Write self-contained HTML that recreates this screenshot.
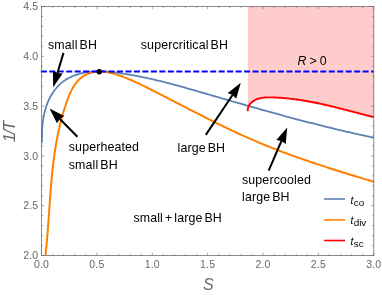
<!DOCTYPE html>
<html><head><meta charset="utf-8"><title>plot</title>
<style>
html,body{margin:0;padding:0;background:#fff;}
svg{display:block;will-change:transform;font-family:"Liberation Sans",sans-serif;}
</style></head>
<body>
<svg width="382" height="295" viewBox="0 0 382 295">
<rect x="0" y="0" width="382" height="295" fill="#fff"/>
<path d="M247.85,6.5 L247.85,111.1 L247.85,111.10 L247.71,109.64 L247.97,108.19 L248.40,106.85 L248.99,105.61 L249.72,104.47 L250.56,103.43 L251.50,102.49 L252.52,101.64 L253.60,100.89 L254.72,100.23 L255.88,99.65 L257.08,99.15 L258.31,98.72 L259.57,98.36 L260.86,98.07 L262.18,97.83 L263.51,97.65 L264.87,97.52 L266.24,97.42 L267.63,97.37 L269.02,97.35 L270.43,97.35 L271.83,97.38 L273.24,97.42 L274.64,97.48 L276.04,97.54 L277.44,97.62 L278.84,97.70 L280.23,97.79 L281.62,97.89 L283.00,98.00 L284.38,98.12 L285.76,98.24 L287.14,98.37 L288.51,98.51 L289.88,98.66 L291.25,98.82 L292.61,98.98 L293.97,99.15 L295.33,99.33 L296.69,99.51 L298.04,99.71 L299.40,99.90 L300.75,100.11 L302.10,100.32 L303.44,100.54 L304.79,100.76 L306.13,100.99 L307.47,101.23 L308.81,101.47 L310.15,101.71 L311.48,101.97 L312.82,102.22 L314.15,102.49 L315.48,102.75 L316.81,103.03 L318.14,103.30 L319.47,103.58 L320.79,103.87 L322.12,104.16 L323.45,104.45 L324.77,104.75 L326.09,105.05 L327.42,105.36 L328.74,105.67 L330.06,105.98 L331.38,106.29 L332.70,106.61 L334.02,106.93 L335.34,107.26 L336.66,107.58 L337.98,107.91 L339.30,108.24 L340.62,108.58 L341.94,108.91 L343.26,109.25 L344.58,109.59 L345.90,109.93 L347.22,110.27 L348.54,110.61 L349.87,110.96 L351.19,111.30 L352.51,111.65 L353.84,111.99 L355.16,112.34 L356.49,112.69 L357.82,113.04 L359.15,113.39 L360.48,113.73 L361.81,114.08 L363.14,114.43 L364.47,114.78 L365.81,115.12 L367.15,115.47 L368.48,115.81 L369.82,116.16 L371.17,116.50 L372.51,116.84 L373.80,117.20 L373.8,6.5 Z" fill="#ffcccc"/>
<g fill="none" stroke-linejoin="round">
<path d="M41.90,142.80 L41.95,140.81 L41.92,138.90 L41.92,136.98 L41.94,135.05 L41.98,133.11 L42.05,131.16 L42.15,129.21 L42.28,127.26 L42.44,125.31 L42.64,123.36 L42.88,121.41 L43.16,119.47 L43.47,117.53 L43.83,115.60 L44.24,113.68 L44.69,111.78 L45.18,109.88 L45.73,108.01 L46.34,106.15 L46.99,104.30 L47.70,102.48 L48.48,100.69 L49.31,98.91 L50.20,97.16 L51.15,95.45 L52.17,93.76 L53.24,92.12 L54.38,90.52 L55.57,88.97 L56.83,87.47 L58.14,86.04 L59.51,84.66 L60.93,83.35 L62.42,82.12 L63.96,80.96 L65.55,79.88 L67.18,78.87 L68.87,77.93 L70.59,77.06 L72.35,76.26 L74.15,75.53 L75.97,74.87 L77.83,74.27 L79.70,73.73 L81.60,73.25 L83.50,72.84 L85.43,72.48 L87.36,72.18 L89.29,71.93 L91.23,71.73 L93.17,71.59 L95.12,71.49 L97.07,71.44 L99.02,71.42 L100.98,71.45 L102.93,71.51 L104.89,71.60 L106.84,71.73 L108.80,71.88 L110.76,72.06 L112.71,72.26 L114.66,72.48 L116.61,72.72 L118.56,72.97 L120.50,73.24 L122.44,73.52 L124.38,73.80 L126.31,74.11 L128.24,74.42 L130.17,74.74 L132.10,75.08 L134.02,75.42 L135.94,75.78 L137.86,76.14 L139.77,76.52 L141.69,76.90 L143.60,77.30 L145.50,77.70 L147.41,78.11 L149.31,78.53 L151.21,78.96 L153.11,79.40 L155.01,79.84 L156.91,80.29 L158.80,80.75 L160.69,81.22 L162.58,81.69 L164.47,82.16 L166.36,82.65 L168.25,83.14 L170.13,83.63 L172.01,84.13 L173.90,84.63 L175.78,85.14 L177.66,85.65 L179.54,86.17 L181.42,86.69 L183.29,87.22 L185.17,87.74 L187.05,88.27 L188.92,88.80 L190.80,89.34 L192.67,89.87 L194.55,90.41 L196.42,90.95 L198.29,91.49 L200.17,92.03 L202.04,92.58 L203.92,93.12 L205.79,93.66 L207.66,94.21 L209.54,94.75 L211.41,95.29 L213.29,95.83 L215.16,96.38 L217.04,96.92 L218.91,97.46 L220.78,98.00 L222.66,98.54 L224.54,99.08 L226.41,99.63 L228.29,100.17 L230.16,100.71 L232.04,101.25 L233.91,101.78 L235.79,102.32 L237.67,102.86 L239.54,103.40 L241.42,103.94 L243.30,104.47 L245.18,105.01 L247.06,105.54 L248.93,106.07 L250.81,106.61 L252.69,107.14 L254.57,107.67 L256.45,108.20 L258.33,108.73 L260.21,109.26 L262.09,109.79 L263.97,110.31 L265.85,110.84 L267.73,111.36 L269.61,111.88 L271.49,112.40 L273.38,112.92 L275.26,113.44 L277.14,113.96 L279.02,114.47 L280.91,114.99 L282.79,115.50 L284.68,116.01 L286.56,116.52 L288.45,117.03 L290.33,117.54 L292.22,118.04 L294.10,118.55 L295.99,119.05 L297.88,119.55 L299.77,120.05 L301.65,120.54 L303.54,121.04 L305.43,121.53 L307.32,122.02 L309.21,122.51 L311.10,122.99 L312.99,123.48 L314.88,123.96 L316.78,124.44 L318.67,124.92 L320.56,125.40 L322.46,125.87 L324.35,126.34 L326.24,126.81 L328.14,127.28 L330.03,127.74 L331.93,128.20 L333.83,128.66 L335.72,129.12 L337.62,129.57 L339.52,130.02 L341.42,130.47 L343.32,130.92 L345.22,131.36 L347.12,131.80 L349.02,132.24 L350.92,132.68 L352.83,133.11 L354.73,133.54 L356.63,133.97 L358.54,134.39 L360.44,134.81 L362.35,135.23 L364.26,135.64 L366.16,136.06 L368.07,136.46 L369.98,136.87 L371.89,137.27 L373.80,137.70" stroke="#5e81b5" stroke-width="1.8"/>
<path d="M45.70,255.40 L45.74,252.89 L46.00,250.39 L46.26,247.89 L46.50,245.39 L46.73,242.89 L46.96,240.38 L47.17,237.88 L47.38,235.37 L47.59,232.86 L47.78,230.35 L47.97,227.84 L48.16,225.33 L48.34,222.82 L48.52,220.31 L48.70,217.80 L48.87,215.28 L49.05,212.77 L49.22,210.26 L49.39,207.75 L49.56,205.23 L49.74,202.72 L49.92,200.21 L50.10,197.70 L50.28,195.19 L50.47,192.68 L50.67,190.17 L50.87,187.66 L51.07,185.15 L51.29,182.65 L51.51,180.14 L51.74,177.64 L51.98,175.14 L52.23,172.64 L52.49,170.14 L52.76,167.65 L53.04,165.15 L53.34,162.66 L53.65,160.17 L53.97,157.68 L54.31,155.20 L54.67,152.72 L55.04,150.24 L55.43,147.76 L55.83,145.28 L56.26,142.81 L56.70,140.35 L57.16,137.88 L57.64,135.42 L58.15,132.96 L58.68,130.51 L59.22,128.06 L59.80,125.61 L60.39,123.17 L61.01,120.73 L61.66,118.30 L62.33,115.87 L63.03,113.44 L63.76,111.02 L64.51,108.61 L65.30,106.19 L66.11,103.79 L66.95,101.39 L67.83,98.99 L68.74,96.60 L69.70,94.24 L70.72,91.91 L71.82,89.63 L73.02,87.42 L74.33,85.29 L75.77,83.26 L77.34,81.35 L79.06,79.56 L80.90,77.92 L82.87,76.45 L84.96,75.16 L87.17,74.07 L89.46,73.19 L91.84,72.50 L94.28,72.00 L96.77,71.69 L99.29,71.55 L101.83,71.58 L104.36,71.77 L106.87,72.12 L109.37,72.60 L111.85,73.19 L114.31,73.87 L116.75,74.63 L119.16,75.44 L121.55,76.29 L123.92,77.17 L126.27,78.09 L128.60,79.05 L130.92,80.03 L133.22,81.04 L135.50,82.07 L137.78,83.12 L140.04,84.20 L142.30,85.29 L144.55,86.39 L146.79,87.50 L149.03,88.62 L151.27,89.75 L153.51,90.88 L155.75,92.02 L157.98,93.15 L160.22,94.29 L162.45,95.44 L164.69,96.58 L166.92,97.73 L169.16,98.88 L171.39,100.04 L173.62,101.19 L175.86,102.34 L178.09,103.50 L180.33,104.65 L182.56,105.81 L184.80,106.96 L187.03,108.12 L189.27,109.27 L191.51,110.42 L193.74,111.57 L195.98,112.72 L198.22,113.87 L200.47,115.01 L202.71,116.15 L204.96,117.29 L207.20,118.42 L209.45,119.55 L211.70,120.68 L213.95,121.80 L216.21,122.92 L218.47,124.03 L220.73,125.14 L222.99,126.24 L225.25,127.34 L227.52,128.43 L229.79,129.51 L232.06,130.59 L234.34,131.66 L236.62,132.72 L238.90,133.77 L241.19,134.82 L243.48,135.86 L245.77,136.88 L248.07,137.90 L250.37,138.92 L252.68,139.92 L254.99,140.91 L257.30,141.89 L259.62,142.86 L261.94,143.82 L264.26,144.78 L266.59,145.72 L268.92,146.66 L271.26,147.58 L273.60,148.50 L275.94,149.41 L278.29,150.31 L280.64,151.21 L282.99,152.10 L285.34,152.97 L287.70,153.85 L290.06,154.71 L292.43,155.57 L294.79,156.42 L297.16,157.26 L299.53,158.10 L301.91,158.93 L304.28,159.75 L306.66,160.57 L309.04,161.38 L311.42,162.19 L313.81,162.99 L316.19,163.79 L318.58,164.58 L320.97,165.36 L323.36,166.15 L325.76,166.92 L328.15,167.70 L330.55,168.46 L332.94,169.23 L335.34,169.99 L337.74,170.74 L340.14,171.50 L342.54,172.25 L344.95,172.99 L347.35,173.73 L349.75,174.47 L352.16,175.21 L354.56,175.95 L356.97,176.68 L359.37,177.41 L361.78,178.14 L364.19,178.87 L366.59,179.59 L369.00,180.32 L371.41,181.04 L373.80,181.80" stroke="#ff8000" stroke-width="2.0"/>
<path d="M247.85,111.10 L247.71,109.64 L247.97,108.19 L248.40,106.85 L248.99,105.61 L249.72,104.47 L250.56,103.43 L251.50,102.49 L252.52,101.64 L253.60,100.89 L254.72,100.23 L255.88,99.65 L257.08,99.15 L258.31,98.72 L259.57,98.36 L260.86,98.07 L262.18,97.83 L263.51,97.65 L264.87,97.52 L266.24,97.42 L267.63,97.37 L269.02,97.35 L270.43,97.35 L271.83,97.38 L273.24,97.42 L274.64,97.48 L276.04,97.54 L277.44,97.62 L278.84,97.70 L280.23,97.79 L281.62,97.89 L283.00,98.00 L284.38,98.12 L285.76,98.24 L287.14,98.37 L288.51,98.51 L289.88,98.66 L291.25,98.82 L292.61,98.98 L293.97,99.15 L295.33,99.33 L296.69,99.51 L298.04,99.71 L299.40,99.90 L300.75,100.11 L302.10,100.32 L303.44,100.54 L304.79,100.76 L306.13,100.99 L307.47,101.23 L308.81,101.47 L310.15,101.71 L311.48,101.97 L312.82,102.22 L314.15,102.49 L315.48,102.75 L316.81,103.03 L318.14,103.30 L319.47,103.58 L320.79,103.87 L322.12,104.16 L323.45,104.45 L324.77,104.75 L326.09,105.05 L327.42,105.36 L328.74,105.67 L330.06,105.98 L331.38,106.29 L332.70,106.61 L334.02,106.93 L335.34,107.26 L336.66,107.58 L337.98,107.91 L339.30,108.24 L340.62,108.58 L341.94,108.91 L343.26,109.25 L344.58,109.59 L345.90,109.93 L347.22,110.27 L348.54,110.61 L349.87,110.96 L351.19,111.30 L352.51,111.65 L353.84,111.99 L355.16,112.34 L356.49,112.69 L357.82,113.04 L359.15,113.39 L360.48,113.73 L361.81,114.08 L363.14,114.43 L364.47,114.78 L365.81,115.12 L367.15,115.47 L368.48,115.81 L369.82,116.16 L371.17,116.50 L372.51,116.84 L373.80,117.20" stroke="#ff0000" stroke-width="1.9"/>
<path d="M40.8,71.45 L373.8,71.45" stroke="#0000ff" stroke-width="2" stroke-dasharray="6.0 2.47"/>
</g>
<circle cx="99.25" cy="71.75" r="2.75" fill="#000"/>
<rect x="41.5" y="6.5" width="332.3" height="248.9" fill="none" stroke="#666" stroke-width="0.75"/>
<path d="M41.50,255.4 v-2.7 M41.50,6.5 v2.7 M52.58,255.4 v-1.5 M52.58,6.5 v1.5 M63.65,255.4 v-1.5 M63.65,6.5 v1.5 M74.73,255.4 v-1.5 M74.73,6.5 v1.5 M85.81,255.4 v-1.5 M85.81,6.5 v1.5 M96.88,255.4 v-2.7 M96.88,6.5 v2.7 M107.96,255.4 v-1.5 M107.96,6.5 v1.5 M119.04,255.4 v-1.5 M119.04,6.5 v1.5 M130.11,255.4 v-1.5 M130.11,6.5 v1.5 M141.19,255.4 v-1.5 M141.19,6.5 v1.5 M152.27,255.4 v-2.7 M152.27,6.5 v2.7 M163.34,255.4 v-1.5 M163.34,6.5 v1.5 M174.42,255.4 v-1.5 M174.42,6.5 v1.5 M185.50,255.4 v-1.5 M185.50,6.5 v1.5 M196.57,255.4 v-1.5 M196.57,6.5 v1.5 M207.65,255.4 v-2.7 M207.65,6.5 v2.7 M218.73,255.4 v-1.5 M218.73,6.5 v1.5 M229.80,255.4 v-1.5 M229.80,6.5 v1.5 M240.88,255.4 v-1.5 M240.88,6.5 v1.5 M251.96,255.4 v-1.5 M251.96,6.5 v1.5 M263.03,255.4 v-2.7 M263.03,6.5 v2.7 M274.11,255.4 v-1.5 M274.11,6.5 v1.5 M285.19,255.4 v-1.5 M285.19,6.5 v1.5 M296.26,255.4 v-1.5 M296.26,6.5 v1.5 M307.34,255.4 v-1.5 M307.34,6.5 v1.5 M318.42,255.4 v-2.7 M318.42,6.5 v2.7 M329.49,255.4 v-1.5 M329.49,6.5 v1.5 M340.57,255.4 v-1.5 M340.57,6.5 v1.5 M351.65,255.4 v-1.5 M351.65,6.5 v1.5 M362.72,255.4 v-1.5 M362.72,6.5 v1.5 M373.80,255.4 v-2.7 M373.80,6.5 v2.7 M41.5,255.40 h2.7 M373.8,255.40 h-2.7 M41.5,245.44 h1.5 M373.8,245.44 h-1.5 M41.5,235.49 h1.5 M373.8,235.49 h-1.5 M41.5,225.53 h1.5 M373.8,225.53 h-1.5 M41.5,215.58 h1.5 M373.8,215.58 h-1.5 M41.5,205.62 h2.7 M373.8,205.62 h-2.7 M41.5,195.66 h1.5 M373.8,195.66 h-1.5 M41.5,185.71 h1.5 M373.8,185.71 h-1.5 M41.5,175.75 h1.5 M373.8,175.75 h-1.5 M41.5,165.80 h1.5 M373.8,165.80 h-1.5 M41.5,155.84 h2.7 M373.8,155.84 h-2.7 M41.5,145.88 h1.5 M373.8,145.88 h-1.5 M41.5,135.93 h1.5 M373.8,135.93 h-1.5 M41.5,125.97 h1.5 M373.8,125.97 h-1.5 M41.5,116.02 h1.5 M373.8,116.02 h-1.5 M41.5,106.06 h2.7 M373.8,106.06 h-2.7 M41.5,96.10 h1.5 M373.8,96.10 h-1.5 M41.5,86.15 h1.5 M373.8,86.15 h-1.5 M41.5,76.19 h1.5 M373.8,76.19 h-1.5 M41.5,66.24 h1.5 M373.8,66.24 h-1.5 M41.5,56.28 h2.7 M373.8,56.28 h-2.7 M41.5,46.32 h1.5 M373.8,46.32 h-1.5 M41.5,36.37 h1.5 M373.8,36.37 h-1.5 M41.5,26.41 h1.5 M373.8,26.41 h-1.5 M41.5,16.46 h1.5 M373.8,16.46 h-1.5 M41.5,6.50 h2.7 M373.8,6.50 h-2.7" stroke="#666" stroke-width="0.6" fill="none"/>
<g font-size="10.5px" fill="#666"><text x="41.50" y="267.7" text-anchor="middle" letter-spacing="0.2">0.0</text><text x="96.88" y="267.7" text-anchor="middle" letter-spacing="0.2">0.5</text><text x="152.27" y="267.7" text-anchor="middle" letter-spacing="0.2">1.0</text><text x="207.65" y="267.7" text-anchor="middle" letter-spacing="0.2">1.5</text><text x="263.03" y="267.7" text-anchor="middle" letter-spacing="0.2">2.0</text><text x="318.42" y="267.7" text-anchor="middle" letter-spacing="0.2">2.5</text><text x="373.80" y="267.7" text-anchor="middle" letter-spacing="0.2">3.0</text><text x="38.2" y="259.20" text-anchor="end" letter-spacing="0.1">2.0</text><text x="38.2" y="209.42" text-anchor="end" letter-spacing="0.1">2.5</text><text x="38.2" y="159.64" text-anchor="end" letter-spacing="0.1">3.0</text><text x="38.2" y="109.86" text-anchor="end" letter-spacing="0.1">3.5</text><text x="38.2" y="60.08" text-anchor="end" letter-spacing="0.1">4.0</text><text x="38.2" y="10.30" text-anchor="end" letter-spacing="0.1">4.5</text></g>
<text x="208.3" y="290" text-anchor="middle" font-size="16px" font-style="italic" fill="#666">S</text>
<text transform="translate(15,142.2) rotate(-90)" font-size="16.5px" font-style="italic" letter-spacing="-1.3" fill="#666">1/T</text>
<path d="M63.50,52.90 L57.46,72.97" stroke="#000" stroke-width="2.0" fill="none"/><path d="M53.20,87.14 L52.87,70.54 L57.46,72.97 L62.63,73.48 Z" fill="#000"/>
<path d="M77.40,136.70 L59.91,118.94" stroke="#000" stroke-width="2.0" fill="none"/><path d="M49.52,108.40 L64.24,116.08 L59.91,118.94 L56.97,123.24 Z" fill="#000"/>
<path d="M205.80,134.90 L232.54,95.03" stroke="#000" stroke-width="2.0" fill="none"/><path d="M240.78,82.74 L236.22,98.70 L232.54,95.03 L227.74,93.02 Z" fill="#000"/>
<path d="M268.70,170.60 L281.41,141.01" stroke="#000" stroke-width="2.0" fill="none"/><path d="M287.25,127.41 L285.70,143.94 L281.41,141.01 L276.33,139.92 Z" fill="#000"/>
<g font-size="12.4px" fill="#000" letter-spacing="0.13" word-spacing="-1.6"><text x="48.0" y="48.7" >small BH</text><text x="140.8" y="49.2" >supercritical BH</text><text x="68.8" y="151.0" >superheated</text><text x="68.8" y="169.0" >small BH</text><text x="177.5" y="151.8" >large BH</text><text x="242.0" y="183.9" >supercooled</text><text x="242.0" y="201.3" >large BH</text><text x="133.4" y="221.9" >small + large BH</text><text x="297.5" y="64.6"><tspan font-style="italic">R</tspan><tspan dx="2.8">&gt;</tspan><tspan dx="2.9">0</tspan></text></g>
<g fill="#000"><path d="M324,199 H345" stroke="#5e81b5" stroke-width="1.6"/><text x="350.4" y="203.7" font-size="10.3px" font-style="italic">t</text><text x="353.7" y="205.79999999999998" font-size="9.9px">co</text><path d="M324,219.9 H345" stroke="#ff8000" stroke-width="1.6"/><text x="350.4" y="223.9" font-size="10.3px" font-style="italic">t</text><text x="353.7" y="226.0" font-size="9.9px">div</text><path d="M324,240.5 H345" stroke="#ff0000" stroke-width="1.6"/><text x="350.4" y="244.8" font-size="10.3px" font-style="italic">t</text><text x="353.7" y="246.9" font-size="9.9px">sc</text></g>
</svg>
</body></html>
